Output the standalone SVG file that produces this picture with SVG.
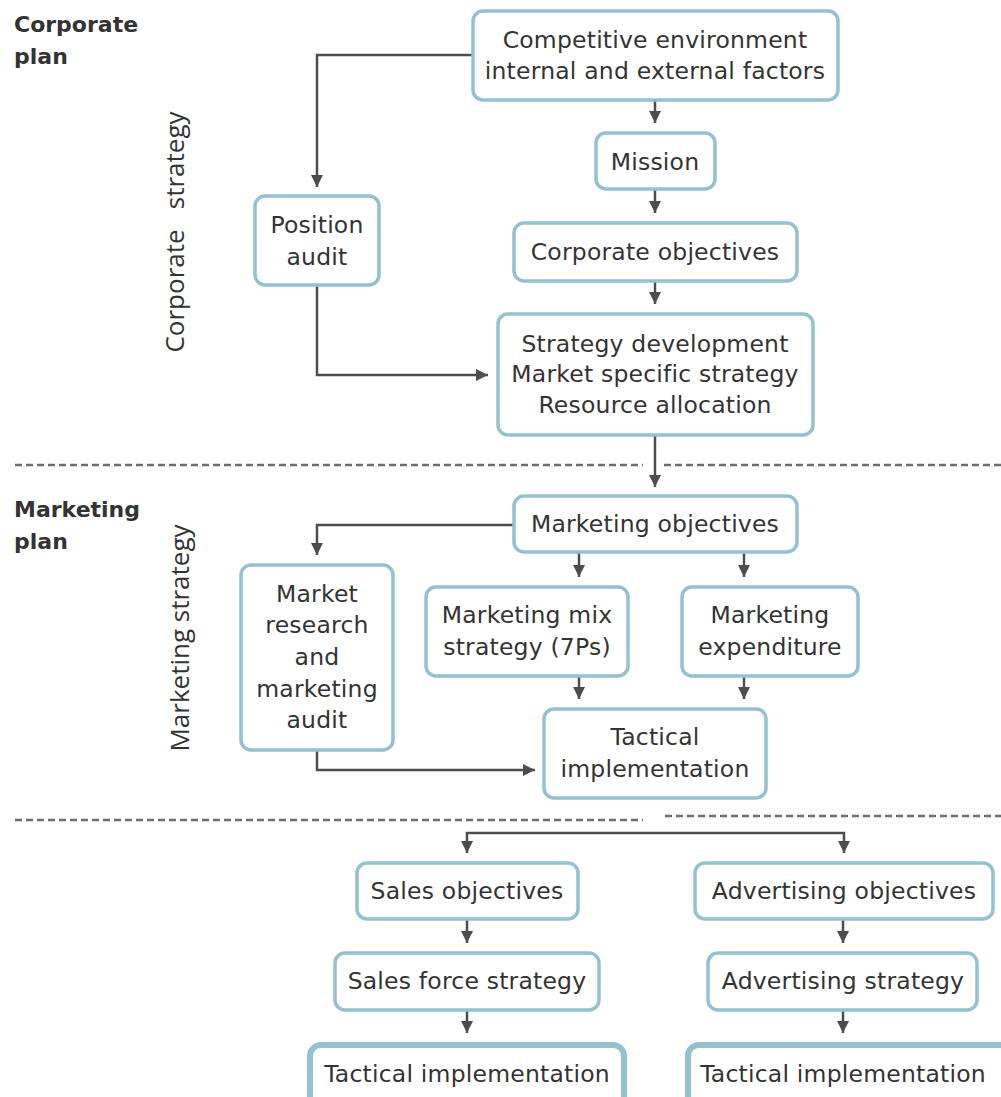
<svg xmlns="http://www.w3.org/2000/svg" width="1001" height="1097" viewBox="0 0 1001 1097">
  <style>
    .box { fill: #ffffff; stroke: #94c1cf; stroke-width: 3.5; }
    .box-thick { fill: #ffffff; stroke: #94c1cf; stroke-width: 6; }
    .lbl { font-family: "DejaVu Sans", "Liberation Sans", sans-serif; font-size: 23.5px; letter-spacing: 0.2px; fill: #333333; text-anchor: middle; }
    .head { font-family: "DejaVu Sans", "Liberation Sans", sans-serif; font-size: 22px; font-weight: bold; fill: #333333; }
    .side { font-family: "Open Sans", "Liberation Sans", sans-serif; font-size: 26px; fill: #333333; text-anchor: middle; }
    .link { fill: none; stroke: #4d4d4f; stroke-width: 2.5; marker-end: url(#arrow); }
    .rule { fill: none; stroke: #6e6e70; stroke-width: 2.5; stroke-dasharray: 7 4; }
  </style>
  <defs>
    <marker id="arrow" viewBox="0 0 10 10" refX="10" refY="5" markerWidth="4.8" markerHeight="5.6" orient="auto" markerUnits="strokeWidth">
      <path d="M0,0 L10,5 L0,10 z" fill="#4d4d4f"/>
    </marker>
  </defs>

  <rect width="1001" height="1097" fill="#ffffff"/>

  <!-- section titles -->
  <g id="titles">
    <text class="head" x="14" y="32">Corporate</text>
    <text class="head" x="14" y="64">plan</text>
    <text class="head" x="14" y="517">Marketing</text>
    <text class="head" x="14" y="549">plan</text>
    <text class="side" transform="translate(184,232) rotate(-90)" xml:space="preserve">Corporate   strategy</text>
    <text class="side" transform="translate(189,638) rotate(-90)">Marketing strategy</text>
  </g>

  <!-- section dividers -->
  <g id="dividers">
    <line class="rule" x1="15" y1="465" x2="643" y2="465"/>
    <line class="rule" x1="664" y1="465" x2="1001" y2="465"/>
    <line class="rule" x1="15" y1="820" x2="643" y2="820"/>
    <line class="rule" x1="665" y1="816" x2="1001" y2="816"/>
  </g>

  <!-- connectors -->
  <g id="connectors">
    <path class="link" d="M655,100 V123"/>
    <path class="link" d="M655,189 V213"/>
    <path class="link" d="M655,281 V304"/>
    <path class="link" d="M473,55 H317 V187"/>
    <path class="link" d="M317,285 V375 H488"/>
    <path class="link" d="M655,435 V487"/>
    <path class="link" d="M514,525 H317 V555"/>
    <path class="link" d="M579,552 V577"/>
    <path class="link" d="M744,552 V577"/>
    <path class="link" d="M579,676 V699"/>
    <path class="link" d="M744,676 V699"/>
    <path class="link" d="M317,750 V770 H535"/>
    <path class="link" d="M656,833 H467 V853"/>
    <path class="link" d="M656,833 H844 V853"/>
    <path class="link" d="M467,919 V943"/>
    <path class="link" d="M467,1010 V1033"/>
    <path class="link" d="M843,919 V943"/>
    <path class="link" d="M843,1010 V1033"/>
  </g>

  <!-- corporate plan nodes -->
  <g id="competitive-environment">
    <rect class="box" x="473" y="11" width="365" height="89" rx="10"/>
    <text class="lbl" x="655" y="48">Competitive environment</text>
    <text class="lbl" x="655" y="79">internal and external factors</text>
  </g>
  <g id="mission">
    <rect class="box" x="596" y="133" width="119" height="56" rx="10"/>
    <text class="lbl" x="655" y="170">Mission</text>
  </g>
  <g id="corporate-objectives">
    <rect class="box" x="514" y="223" width="283" height="58" rx="10"/>
    <text class="lbl" x="655" y="260">Corporate objectives</text>
  </g>
  <g id="position-audit">
    <rect class="box" x="255" y="196" width="124" height="89" rx="10"/>
    <text class="lbl" x="317" y="233">Position</text>
    <text class="lbl" x="317" y="265">audit</text>
  </g>
  <g id="strategy-development">
    <rect class="box" x="498" y="314" width="315" height="121" rx="10"/>
    <text class="lbl" x="655" y="352">Strategy development</text>
    <text class="lbl" x="655" y="382">Market specific strategy</text>
    <text class="lbl" x="655" y="413">Resource allocation</text>
  </g>

  <!-- marketing plan nodes -->
  <g id="marketing-objectives">
    <rect class="box" x="514" y="496" width="283" height="56" rx="10"/>
    <text class="lbl" x="655" y="532">Marketing objectives</text>
  </g>
  <g id="market-research">
    <rect class="box" x="241" y="565" width="152" height="185" rx="10"/>
    <text class="lbl" x="317" y="602">Market</text>
    <text class="lbl" x="317" y="633">research</text>
    <text class="lbl" x="317" y="665">and</text>
    <text class="lbl" x="317" y="697">marketing</text>
    <text class="lbl" x="317" y="728">audit</text>
  </g>
  <g id="marketing-mix">
    <rect class="box" x="426" y="587" width="202" height="89" rx="10"/>
    <text class="lbl" x="527" y="623">Marketing mix</text>
    <text class="lbl" x="527" y="655">strategy (7Ps)</text>
  </g>
  <g id="marketing-expenditure">
    <rect class="box" x="682" y="587" width="176" height="89" rx="10"/>
    <text class="lbl" x="770" y="623">Marketing</text>
    <text class="lbl" x="770" y="655">expenditure</text>
  </g>
  <g id="tactical-implementation">
    <rect class="box" x="544" y="709" width="222" height="89" rx="10"/>
    <text class="lbl" x="655" y="745">Tactical</text>
    <text class="lbl" x="655" y="777">implementation</text>
  </g>

  <!-- sales branch -->
  <g id="sales-objectives">
    <rect class="box" x="357" y="863" width="221" height="56" rx="10"/>
    <text class="lbl" x="467" y="899">Sales objectives</text>
  </g>
  <g id="sales-force-strategy">
    <rect class="box" x="335" y="953" width="264" height="57" rx="10"/>
    <text class="lbl" x="467" y="989">Sales force strategy</text>
  </g>
  <g id="sales-tactical-implementation">
    <rect class="box-thick" x="310" y="1045" width="314" height="70" rx="11"/>
    <text class="lbl" x="467" y="1082">Tactical implementation</text>
  </g>

  <!-- advertising branch -->
  <g id="advertising-objectives">
    <rect class="box" x="695" y="863" width="298" height="56" rx="10"/>
    <text class="lbl" x="844" y="899">Advertising objectives</text>
  </g>
  <g id="advertising-strategy">
    <rect class="box" x="708" y="953" width="269" height="57" rx="10"/>
    <text class="lbl" x="843" y="989">Advertising strategy</text>
  </g>
  <g id="advertising-tactical-implementation">
    <rect class="box-thick" x="688" y="1045" width="330" height="70" rx="11"/>
    <text class="lbl" x="843" y="1082">Tactical implementation</text>
  </g>
</svg>
